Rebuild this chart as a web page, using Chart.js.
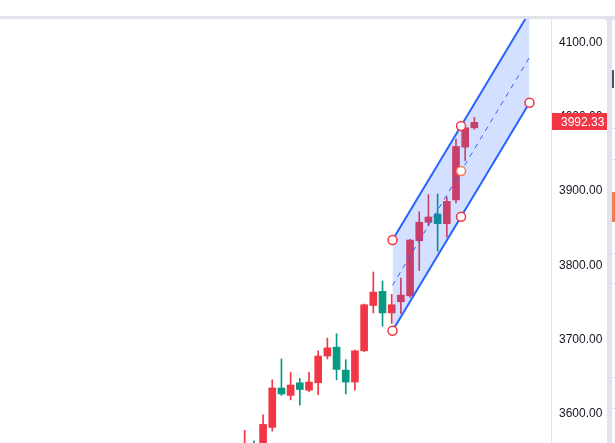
<!DOCTYPE html>
<html>
<head>
<meta charset="utf-8">
<script src="https://cdn.jsdelivr.net/npm/chart.js@4.4.0/dist/chart.umd.min.js"></script>
<style>
  html, body { margin: 0; padding: 0; }
  body { width: 615px; height: 443px; overflow: hidden; background: #e0e3eb; position: relative; }
  #topbar { position: absolute; left: 0; top: 0; width: 615px; height: 16px; background: #fff; z-index: 3; }
  #band { position: absolute; left: 0; top: 16px; width: 615px; height: 3px; background: #e0e3eb; z-index: 3; }
  #pane { position: absolute; left: 0; top: 19px; width: 607px; height: 424px; background: #fff; border-top-right-radius: 4px; }
  #side { position: absolute; left: 612px; top: 19px; width: 3px; height: 424px; background: #fff; border-top-left-radius: 3px; }
  #side div { position: absolute; left: 0; width: 3px; }
  #chart { position: absolute; left: 0; top: 0; z-index: 1; }
</style>
</head>
<body>
<div id="topbar"></div>
<div id="band"></div>
<div id="pane"></div>
<div id="side">
  <div style="top:51px;height:18px;width:2px;background:#50535e"></div>
  <div style="top:109px;height:1px;background:#e0e3eb"></div>
  <div style="top:140px;height:1px;background:#e0e3eb"></div>
  <div style="top:173px;height:30px;width:3px;background:#f7794f"></div>
  <div style="top:234px;height:1px;background:#e0e3eb"></div>
  <div style="top:264px;height:1px;background:#e0e3eb"></div>
  <div style="top:358px;height:1px;background:#e0e3eb"></div>
  <div style="top:389px;height:1px;background:#e0e3eb"></div>
</div>
<canvas id="chart" width="607" height="463"></canvas>
<script>
// candles, one per bar index (red = up, green = down)
var opens  = [3542, 3556, 3547, 3582, 3635, 3625, 3642, 3632, 3642, 3678, 3690, 3659, 3643,
              3685, 3746, 3765, 3736, 3751, 3759, 3833, 3858, 3869, 3856, 3888, 3959, 3985];
var highs  = [3578, 3564, 3599, 3646, 3674, 3656, 3648, 3656, 3685, 3702, 3708, 3673, 3686,
              3748, 3791, 3779, 3761, 3783, 3835, 3872, 3895, 3896, 3892, 3970, 3987, 3999];
var lows   = [3528, 3535, 3540, 3577, 3625, 3619, 3612, 3630, 3626, 3674, 3646, 3627, 3632,
              3684, 3736, 3718, 3722, 3735, 3757, 3793, 3853, 3819, 3838, 3884, 3941, 3983];
var closes = [3556, 3548, 3586, 3635, 3627, 3639, 3633, 3643, 3678, 3689, 3660, 3643, 3685,
              3747, 3764, 3736, 3747, 3760, 3834, 3858, 3865, 3856, 3886, 3960, 3985, 3992.33];

var priceTicks = [3600, 3700, 3800, 3900, 4000, 4100];
var lastPrice = 3992.33;

// parallel channel drawing (bar index, price)
var channelX     = [16.09, 31.0];
var channelUpper = [3834.1, 4140.8];
var channelLower = [3712.1, 4018.8];
var channelMid   = [3773.1, 4079.8];
var anchorX      = [16.09, 16.09, 23.55, 23.55, 23.55, 31.0];
var anchorY      = [3834.1, 3712.1, 3987.4, 3926.9, 3865.4, 4018.8];

var red = "#f23645";
var green = "#089981";
var blue = "#2962ff";

function pts(xs, ys) {
    return xs.map(function(x, i){ return {x: x, y: ys[i]}; });
}

var candleColors = closes.map(function(c, i){ return c >= opens[i] ? red : green; });
var bodies = closes.map(function(c, i){ return {x: i, y: [opens[i], c]}; });
var wicks = highs.map(function(h, i){ return {x: i, y: [lows[i], h]}; });

var lastPricePlugin = {
    id: "lastPrice",
    afterDraw: function(chart){
        var ctx = chart.ctx;
        var y = chart.scales.y.getPixelForValue(lastPrice);
        var left = chart.chartArea.right + 1;
        ctx.save();
        ctx.fillStyle = red;
        ctx.fillRect(left, Math.round(y) - 9, chart.width - left, 17);
        ctx.fillStyle = "#ffffff";
        ctx.font = '12px "Liberation Sans", Arial, sans-serif';
        ctx.textAlign = "left";
        ctx.textBaseline = "middle";
        ctx.fillText(lastPrice.toFixed(2), left + 9, y);
        ctx.restore();
    }
};

new Chart(document.getElementById("chart"), {
    type: "bar",
    data: {
        datasets: [
            {
                type: "line",
                data: pts(channelX, channelUpper),
                borderColor: blue,
                borderWidth: 2,
                pointRadius: 0,
                fill: "+1",
                backgroundColor: "rgba(41,98,255,0.2)",
                order: 1
            },
            {
                type: "line",
                data: pts(channelX, channelLower),
                borderColor: blue,
                borderWidth: 2,
                pointRadius: 0,
                fill: false,
                order: 1
            },
            {
                type: "line",
                data: pts(channelX, channelMid),
                borderColor: blue,
                borderWidth: 1,
                borderDash: [5, 5],
                pointRadius: 0,
                fill: false,
                order: 1
            },
            {
                type: "line",
                data: pts(anchorX, anchorY),
                showLine: false,
                pointRadius: 4.5,
                pointBorderWidth: 1.5,
                pointBackgroundColor: "#ffffff",
                pointBorderColor: [red, red, red, "#f7794f", red, red],
                order: 0
            },
            {
                data: wicks,
                backgroundColor: candleColors,
                barThickness: 1,
                grouped: false,
                order: 3
            },
            {
                data: bodies,
                backgroundColor: candleColors,
                barThickness: 7,
                grouped: false,
                order: 2
            }
        ]
    },
    options: {
        responsive: false,
        animation: false,
        devicePixelRatio: 1,
        layout: { padding: { top: 19, bottom: 20, left: 0, right: 0 } },
        plugins: { legend: { display: false }, tooltip: { enabled: false } },
        scales: {
            x: {
                type: "linear",
                display: false,
                offset: false,
                min: -25.98,
                max: 33.34
            },
            y: {
                type: "linear",
                position: "right",
                min: 3561.0,
                max: 4131.4,
                afterBuildTicks: function(scale){
                    scale.ticks = priceTicks.map(function(v){ return {value: v}; });
                },
                afterFit: function(scale){ scale.width = 56; },
                grid: { display: false, drawTicks: false },
                border: { display: true, color: "#e0e3eb", width: 1 },
                ticks: {
                    padding: 8,
                    color: "#131722",
                    font: { family: '"Liberation Sans", Arial, sans-serif', size: 12 },
                    callback: function(v){ return Number(v).toFixed(2); }
                }
            }
        }
    },
    plugins: [lastPricePlugin]
});
</script>
</body>
</html>
